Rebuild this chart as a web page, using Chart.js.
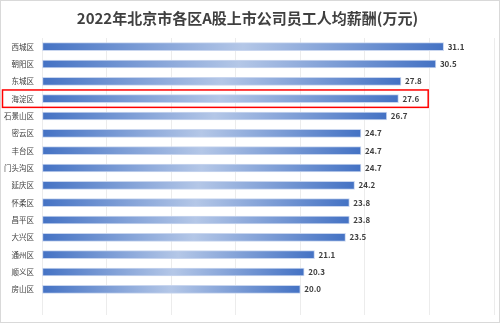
<!DOCTYPE html>
<html>
<head>
<meta charset="utf-8">
<script src="https://cdn.jsdelivr.net/npm/chart.js@4.4.0/dist/chart.umd.min.js"></script>
<style>
  html, body { margin: 0; padding: 0; background: #fff; }
  .wrap { width: 500px; height: 323px; box-sizing: border-box; border: 1px solid #d9d9d9; background: #fff; }
  canvas { display: block; }
</style>
</head>
<body>
<div class="wrap"><canvas id="myChart" width="498" height="321"></canvas></div>
<script>
const districts = ["西城区", "朝阳区", "东城区", "海淀区", "石景山区", "密云区", "丰台区", "门头沟区",
  "延庆区", "怀柔区", "昌平区", "大兴区", "通州区", "顺义区", "房山区"];
const salary = [31.1, 30.5, 27.8, 27.6, 26.7, 24.7, 24.7, 24.7, 24.2, 23.8, 23.8, 23.5, 21.1, 20.3, 20.0];
const xTicks = [0, 5, 10, 15, 20, 25, 30, 35];
const highlighted = "海淀区";

const FONT = "'Noto Sans CJK SC', 'Noto Sans', sans-serif";

// dark at both ends, light in the middle of each bar
const barGradient = (ctx) => {
  const chart = ctx.chart;
  if (!chart.chartArea || ctx.type !== "data") return "#4472c4";
  const x = chart.scales.x;
  const x0 = x.getPixelForValue(0);
  const x1 = x.getPixelForValue(ctx.raw);
  const g = chart.ctx.createLinearGradient(x0, 0, x1, 0);
  g.addColorStop(0, "#4472c4");
  g.addColorStop(0.5, "#b4c7e7");
  g.addColorStop(1, "#4472c4");
  return g;
};

const valueLabels = {
  id: "valueLabels",
  afterDatasetsDraw(chart) {
    const c = chart.ctx;
    const meta = chart.getDatasetMeta(0);
    c.save();
    c.font = "bold 8px " + FONT;
    c.fillStyle = "#404040";
    c.textAlign = "left";
    c.textBaseline = "middle";
    meta.data.forEach((bar, i) => {
      c.fillText(salary[i].toFixed(1), bar.x + 4, bar.y);
    });
    c.restore();
  },
};

const highlightBox = {
  id: "highlightBox",
  afterDraw(chart) {
    const idx = districts.indexOf(highlighted);
    if (idx < 0) return;
    const c = chart.ctx;
    const bar = chart.getDatasetMeta(0).data[idx];
    c.save();
    c.font = "bold 8px " + FONT;
    const txtW = c.measureText(salary[idx].toFixed(1)).width;
    const right = bar.x + 4 + txtW + 9;
    c.strokeStyle = "#ff0000";
    c.lineWidth = 1.5;
    c.strokeRect(1.5, bar.y - 8.7, right - 1.5, 17.4);
    c.restore();
  },
};

const config = {
  type: "bar",
  data: {
    labels: districts,
    datasets: [
      {
        data: salary,
        backgroundColor: barGradient,
        borderColor: "#c9d6ef",
        borderWidth: 1,
        borderSkipped: false,
        barThickness: 8,
      },
    ],
  },
  options: {
    indexAxis: "y",
    responsive: false,
    animation: false,
    layout: { padding: { left: 0, right: 5, top: 0, bottom: 7 } },
    plugins: {
      legend: { display: false },
      tooltip: { enabled: false },
      title: {
        display: true,
        text: "2022年北京市各区A股上市公司员工人均薪酬(万元)",
        color: "#404040",
        font: { family: FONT, size: 15, weight: "bold", lineHeight: 1.2 },
        padding: { top: 8, bottom: 11 },
      },
    },
    scales: {
      x: {
        min: 0,
        max: 35,
        afterBuildTicks: (scale) => {
          scale.ticks = xTicks.map((v) => ({ value: v }));
        },
        ticks: { display: false },
        grid: { color: "#ececec", lineWidth: 1, drawTicks: true, tickLength: 17 },
        border: { display: false },
      },
      y: {
        afterFit: (scale) => {
          scale.width = 41;
        },
        ticks: {
          color: "#404040",
          padding: 8,
          font: { family: FONT, size: 7.5 },
        },
        grid: { display: false, drawTicks: false },
        border: { display: false },
      },
    },
  },
  plugins: [valueLabels, highlightBox],
};

const ctx = document.getElementById("myChart").getContext("2d");
new Chart(ctx, config);
</script>
</body>
</html>
